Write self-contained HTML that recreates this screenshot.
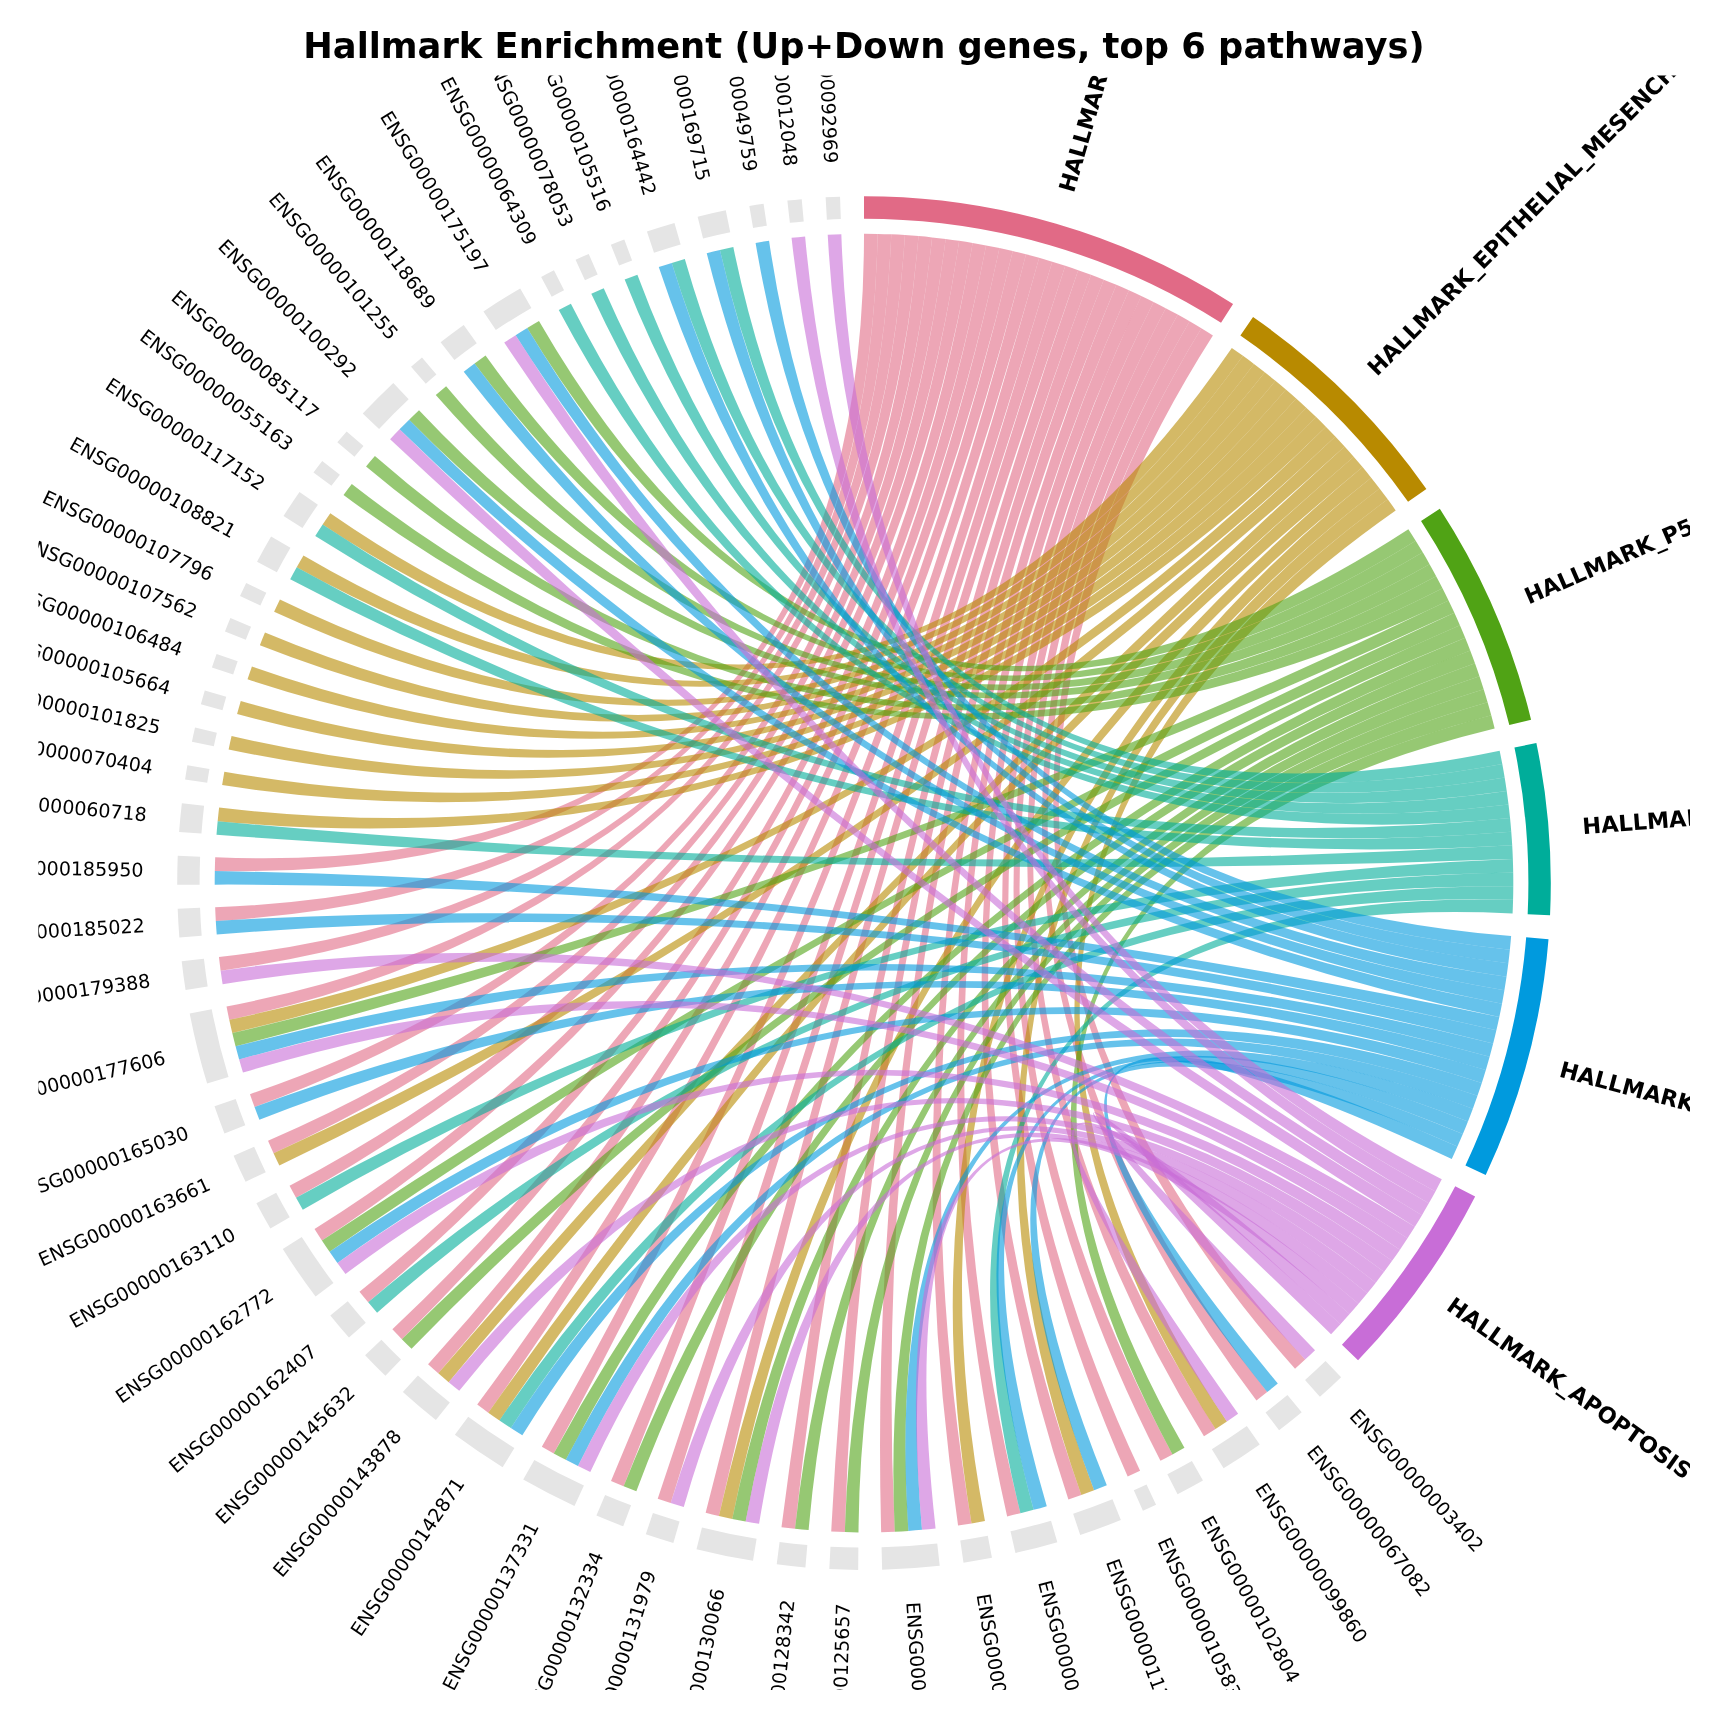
<!DOCTYPE html>
<html lang="en"><head><meta charset="utf-8"><title>Hallmark Enrichment (Up+Down genes, top 6 pathways)</title>
<style>html,body{margin:0;padding:0;background:#fff}body{width:1728px;height:1728px;overflow:hidden}</style>
</head><body>
<svg width="1728" height="1728" viewBox="0 0 1728 1728" style="display:block;will-change:transform">
<rect width="1728" height="1728" fill="#fff"/>
<defs><clipPath id="c"><rect x="38.4" y="75.6" width="1651.6" height="1614.4"/></clipPath></defs>
<text x="864" y="57.5" text-anchor="middle" font-family="'DejaVu Sans','Liberation Sans',sans-serif" font-weight="bold" font-size="35.3">Hallmark Enrichment (Up+Down genes, top 6 pathways)</text>
<g clip-path="url(#c)">
<path d="M864 196.3A686.8 686.8 0 0 1 1233.07 303.89L1221.03 322.78A664.4 664.4 0 0 0 864 218.7Z" fill="#E16A86"/>
<path d="M1253.06 317.12A686.8 686.8 0 0 1 1426.39 488.88L1408.05 501.74A664.4 664.4 0 0 0 1240.37 335.58Z" fill="#B88A00"/>
<path d="M1439.81 508.75A686.8 686.8 0 0 1 1531.07 719.66L1509.31 724.99A664.4 664.4 0 0 0 1421.03 520.96Z" fill="#50A315"/>
<path d="M1536.37 743.04A686.8 686.8 0 0 1 1550.05 915.21L1527.67 914.16A664.4 664.4 0 0 0 1514.44 747.61Z" fill="#00AD9A"/>
<path d="M1548.51 939.13A686.8 686.8 0 0 1 1485.71 1174.94L1465.44 1165.42A664.4 664.4 0 0 0 1526.19 937.3Z" fill="#009ADE"/>
<path d="M1475.15 1196.46A686.8 686.8 0 0 1 1358.04 1360.19L1341.93 1344.63A664.4 664.4 0 0 0 1455.22 1186.23Z" fill="#C86DD7"/>
<path d="M1341.09 1377.14A686.8 686.8 0 0 1 1319.91 1396.75L1305.05 1380A664.4 664.4 0 0 0 1325.53 1361.03Z" fill="#E5E5E5"/>
<path d="M1301.71 1412.35A686.8 686.8 0 0 1 1279.09 1430.27L1265.55 1412.42A664.4 664.4 0 0 0 1287.44 1395.09Z" fill="#E5E5E5"/>
<path d="M1259.74 1444.42A686.8 686.8 0 0 1 1223.6 1468.24L1211.87 1449.15A664.4 664.4 0 0 0 1246.83 1426.11Z" fill="#E5E5E5"/>
<path d="M1202.96 1480.43A686.8 686.8 0 0 1 1177.56 1494.14L1167.34 1474.21A664.4 664.4 0 0 0 1191.9 1460.95Z" fill="#E5E5E5"/>
<path d="M1156.05 1504.71A686.8 686.8 0 0 1 1142.92 1510.71L1133.82 1490.24A664.4 664.4 0 0 0 1146.52 1484.44Z" fill="#E5E5E5"/>
<path d="M1120.85 1520.06A686.8 686.8 0 0 1 1080.21 1534.98L1073.16 1513.72A664.4 664.4 0 0 0 1112.47 1499.29Z" fill="#E5E5E5"/>
<path d="M1057.33 1542.13A686.8 686.8 0 0 1 1015.43 1553L1010.49 1531.15A664.4 664.4 0 0 0 1051.03 1520.63Z" fill="#E5E5E5"/>
<path d="M991.96 1557.87A686.8 686.8 0 0 1 963.5 1562.65L960.26 1540.49A664.4 664.4 0 0 0 987.79 1535.87Z" fill="#E5E5E5"/>
<path d="M939.72 1565.71A686.8 686.8 0 0 1 882.15 1569.66L881.56 1547.27A664.4 664.4 0 0 0 937.25 1543.45Z" fill="#E5E5E5"/>
<path d="M858.18 1569.88A686.8 686.8 0 0 1 829.33 1569.02L830.46 1546.65A664.4 664.4 0 0 0 858.37 1547.48Z" fill="#E5E5E5"/>
<path d="M805.42 1567.4A686.8 686.8 0 0 1 776.72 1564.33L779.57 1542.11A664.4 664.4 0 0 0 807.33 1545.08Z" fill="#E5E5E5"/>
<path d="M753 1560.87A686.8 686.8 0 0 1 696.49 1549.16L701.96 1527.44A664.4 664.4 0 0 0 756.62 1538.77Z" fill="#E5E5E5"/>
<path d="M673.35 1542.91A686.8 686.8 0 0 1 645.8 1534.32L652.92 1513.08A664.4 664.4 0 0 0 679.57 1521.39Z" fill="#E5E5E5"/>
<path d="M623.21 1526.3A686.8 686.8 0 0 1 596.4 1515.62L605.12 1494.99A664.4 664.4 0 0 0 631.06 1505.33Z" fill="#E5E5E5"/>
<path d="M574.48 1505.9A686.8 686.8 0 0 1 523.22 1479.39L534.34 1459.95A664.4 664.4 0 0 0 583.93 1485.58Z" fill="#E5E5E5"/>
<path d="M502.62 1467.14A686.8 686.8 0 0 1 454.87 1434.74L468.21 1416.75A664.4 664.4 0 0 0 514.41 1448.09Z" fill="#E5E5E5"/>
<path d="M435.87 1420.12A686.8 686.8 0 0 1 402.89 1392.09L417.93 1375.49A664.4 664.4 0 0 0 449.83 1402.61Z" fill="#E5E5E5"/>
<path d="M385.4 1375.69A686.8 686.8 0 0 1 365.13 1355.14L381.4 1339.75A664.4 664.4 0 0 0 401.01 1359.62Z" fill="#E5E5E5"/>
<path d="M348.96 1337.45A686.8 686.8 0 0 1 330.33 1315.41L347.74 1301.31A664.4 664.4 0 0 0 365.76 1322.63Z" fill="#E5E5E5"/>
<path d="M315.57 1296.52A686.8 686.8 0 0 1 282.8 1249.02L301.75 1237.09A664.4 664.4 0 0 0 333.45 1283.04Z" fill="#E5E5E5"/>
<path d="M270.38 1228.51A686.8 686.8 0 0 1 256.39 1203.27L276.21 1192.83A664.4 664.4 0 0 0 289.74 1217.25Z" fill="#E5E5E5"/>
<path d="M245.59 1181.87A686.8 686.8 0 0 1 233.58 1155.63L254.15 1146.74A664.4 664.4 0 0 0 265.76 1172.13Z" fill="#E5E5E5"/>
<path d="M224.46 1133.46A686.8 686.8 0 0 1 214.5 1106.37L235.69 1099.09A664.4 664.4 0 0 0 245.32 1125.29Z" fill="#E5E5E5"/>
<path d="M207.11 1083.57A686.8 686.8 0 0 1 189.71 1013.58L211.7 1009.32A664.4 664.4 0 0 0 228.53 1077.03Z" fill="#E5E5E5"/>
<path d="M185.56 989.96A686.8 686.8 0 0 1 181.67 961.37L203.93 958.82A664.4 664.4 0 0 0 207.69 986.48Z" fill="#E5E5E5"/>
<path d="M179.36 937.51A686.8 686.8 0 0 1 177.68 908.7L200.06 907.86A664.4 664.4 0 0 0 201.69 935.73Z" fill="#E5E5E5"/>
<path d="M177.2 884.73A686.8 686.8 0 0 1 177.74 855.87L200.12 856.76A664.4 664.4 0 0 0 199.6 884.68Z" fill="#E5E5E5"/>
<path d="M179.11 831.94A686.8 686.8 0 0 1 181.86 803.21L204.11 805.82A664.4 664.4 0 0 0 201.45 833.61Z" fill="#E5E5E5"/>
<path d="M185.07 779.46A686.8 686.8 0 0 1 187.39 765.21L209.46 769.06A664.4 664.4 0 0 0 207.21 782.84Z" fill="#E5E5E5"/>
<path d="M191.92 741.67A686.8 686.8 0 0 1 195.04 727.58L216.86 732.66A664.4 664.4 0 0 0 213.84 746.29Z" fill="#E5E5E5"/>
<path d="M200.87 704.33A686.8 686.8 0 0 1 204.78 690.44L226.28 696.72A664.4 664.4 0 0 0 222.5 710.16Z" fill="#E5E5E5"/>
<path d="M211.9 667.55A686.8 686.8 0 0 1 216.57 653.9L237.69 661.37A664.4 664.4 0 0 0 233.17 674.58Z" fill="#E5E5E5"/>
<path d="M224.97 631.44A686.8 686.8 0 0 1 230.4 618.07L251.06 626.71A664.4 664.4 0 0 0 245.81 639.65Z" fill="#E5E5E5"/>
<path d="M240.03 596.12A686.8 686.8 0 0 1 246.2 583.07L266.35 592.86A664.4 664.4 0 0 0 260.38 605.48Z" fill="#E5E5E5"/>
<path d="M257.05 561.69A686.8 686.8 0 0 1 271.08 536.48L290.42 547.78A664.4 664.4 0 0 0 276.84 572.18Z" fill="#E5E5E5"/>
<path d="M283.54 516A686.8 686.8 0 0 1 299.48 491.94L317.89 504.69A664.4 664.4 0 0 0 302.47 527.97Z" fill="#E5E5E5"/>
<path d="M313.47 472.47A686.8 686.8 0 0 1 322.22 461L339.89 474.76A664.4 664.4 0 0 0 331.43 485.87Z" fill="#E5E5E5"/>
<path d="M337.28 442.35A686.8 686.8 0 0 1 346.66 431.38L363.53 446.11A664.4 664.4 0 0 0 354.46 456.72Z" fill="#E5E5E5"/>
<path d="M362.74 413.6A686.8 686.8 0 0 1 393.31 382.95L408.66 399.27A664.4 664.4 0 0 0 379.09 428.91Z" fill="#E5E5E5"/>
<path d="M411.05 366.83A686.8 686.8 0 0 1 422 357.43L436.41 374.57A664.4 664.4 0 0 0 425.82 383.67Z" fill="#E5E5E5"/>
<path d="M440.61 342.32A686.8 686.8 0 0 1 463.71 325.01L476.76 343.22A664.4 664.4 0 0 0 454.42 359.96Z" fill="#E5E5E5"/>
<path d="M483.43 311.38A686.8 686.8 0 0 1 520.2 288.55L531.41 307.94A664.4 664.4 0 0 0 495.84 330.03Z" fill="#E5E5E5"/>
<path d="M541.16 276.91A686.8 686.8 0 0 1 553.96 270.26L564.08 290.25A664.4 664.4 0 0 0 551.69 296.68Z" fill="#E5E5E5"/>
<path d="M575.54 259.81A686.8 686.8 0 0 1 588.7 253.89L597.68 274.41A664.4 664.4 0 0 0 584.95 280.14Z" fill="#E5E5E5"/>
<path d="M610.83 244.67A686.8 686.8 0 0 1 624.3 239.49L632.11 260.48A664.4 664.4 0 0 0 619.08 265.49Z" fill="#E5E5E5"/>
<path d="M646.9 231.51A686.8 686.8 0 0 1 674.47 222.97L680.65 244.5A664.4 664.4 0 0 0 653.98 252.77Z" fill="#E5E5E5"/>
<path d="M697.62 216.76A686.8 686.8 0 0 1 725.76 210.36L730.27 232.3A664.4 664.4 0 0 0 703.05 238.49Z" fill="#E5E5E5"/>
<path d="M749.33 205.94A686.8 686.8 0 0 1 763.58 203.68L766.85 225.84A664.4 664.4 0 0 0 753.07 228.03Z" fill="#E5E5E5"/>
<path d="M787.35 200.59A686.8 686.8 0 0 1 801.71 199.13L803.74 221.44A664.4 664.4 0 0 0 789.85 222.85Z" fill="#E5E5E5"/>
<path d="M825.62 197.37A686.8 686.8 0 0 1 840.03 196.72L840.81 219.1A664.4 664.4 0 0 0 826.87 219.74Z" fill="#E5E5E5"/>
<g fill="#E16A86" fill-opacity="0.6">
<path d="M864 233.8A649.3 649.3 0 0 1 877.64 233.94Q864 883.1 214.81 871A649.3 649.3 0 0 1 215.21 857.36Q864 883.1 864 233.8Z"/>
<path d="M877.64 233.94A649.3 649.3 0 0 1 891.28 234.37Q864 883.1 215.8 920.93A649.3 649.3 0 0 1 215.15 907.3Q864 883.1 877.64 233.94Z"/>
<path d="M891.28 234.37A649.3 649.3 0 0 1 904.9 235.09Q864 883.1 220.63 970.63A649.3 649.3 0 0 1 218.93 957.09Q864 883.1 891.28 234.37Z"/>
<path d="M904.9 235.09A649.3 649.3 0 0 1 918.51 236.09Q864 883.1 229.26 1019.82A649.3 649.3 0 0 1 226.52 1006.45Q864 883.1 904.9 235.09Z"/>
<path d="M918.51 236.09A649.3 649.3 0 0 1 932.09 237.38Q864 883.1 254.54 1107.03A649.3 649.3 0 0 1 249.97 1094.18Q864 883.1 918.51 236.09Z"/>
<path d="M932.09 237.38A649.3 649.3 0 0 1 945.64 238.95Q864 883.1 273.55 1153.21A649.3 649.3 0 0 1 268.01 1140.75Q864 883.1 932.09 237.38Z"/>
<path d="M945.64 238.95A649.3 649.3 0 0 1 959.16 240.81Q864 883.1 296.06 1197.79A649.3 649.3 0 0 1 289.57 1185.79Q864 883.1 945.64 238.95Z"/>
<path d="M959.16 240.81A649.3 649.3 0 0 1 972.63 242.95Q864 883.1 321.92 1240.51A649.3 649.3 0 0 1 314.53 1229.04Q864 883.1 959.16 240.81Z"/>
<path d="M972.63 242.95A649.3 649.3 0 0 1 986.06 245.38Q864 883.1 368.17 1302.31A649.3 649.3 0 0 1 359.47 1291.8Q864 883.1 972.63 242.95Z"/>
<path d="M986.06 245.38A649.3 649.3 0 0 1 999.43 248.08Q864 883.1 401.85 1339.18A649.3 649.3 0 0 1 392.37 1329.37Q864 883.1 986.06 245.38Z"/>
<path d="M999.43 248.08A649.3 649.3 0 0 1 1012.74 251.07Q864 883.1 438.27 1373.35A649.3 649.3 0 0 1 428.06 1364.3Q864 883.1 999.43 248.08Z"/>
<path d="M1012.74 251.07A649.3 649.3 0 0 1 1025.99 254.33Q864 883.1 488.25 1412.63A649.3 649.3 0 0 1 477.21 1404.62Q864 883.1 1012.74 251.07Z"/>
<path d="M1025.99 254.33A649.3 649.3 0 0 1 1039.16 257.87Q864 883.1 553.75 1453.48A649.3 649.3 0 0 1 541.83 1446.84Q864 883.1 1025.99 254.33Z"/>
<path d="M1039.16 257.87A649.3 649.3 0 0 1 1052.26 261.69Q864 883.1 623.63 1486.27A649.3 649.3 0 0 1 611.01 1481.08Q864 883.1 1039.16 257.87Z"/>
<path d="M1052.26 261.69A649.3 649.3 0 0 1 1065.27 265.78Q864 883.1 670.69 1502.96A649.3 649.3 0 0 1 657.71 1498.76Q864 883.1 1052.26 261.69Z"/>
<path d="M1065.27 265.78A649.3 649.3 0 0 1 1078.2 270.15Q864 883.1 718.9 1515.98A649.3 649.3 0 0 1 705.64 1512.79Q864 883.1 1065.27 265.78Z"/>
<path d="M1078.2 270.15A649.3 649.3 0 0 1 1091.03 274.78Q864 883.1 795.04 1528.73A649.3 649.3 0 0 1 781.49 1527.14Q864 883.1 1078.2 270.15Z"/>
<path d="M1091.03 274.78A649.3 649.3 0 0 1 1103.76 279.69Q864 883.1 844.86 1532.12A649.3 649.3 0 0 1 831.23 1531.57Q864 883.1 1091.03 274.78Z"/>
<path d="M1103.76 279.69A649.3 649.3 0 0 1 1116.38 284.86Q864 883.1 894.8 1531.67A649.3 649.3 0 0 1 881.16 1532.17Q864 883.1 1103.76 279.69Z"/>
<path d="M1116.38 284.86A649.3 649.3 0 0 1 1128.9 290.29Q864 883.1 971.55 1523.43A649.3 649.3 0 0 1 958.07 1525.55Q864 883.1 1116.38 284.86Z"/>
<path d="M1128.9 290.29A649.3 649.3 0 0 1 1141.29 295.99Q864 883.1 1020.44 1513.27A649.3 649.3 0 0 1 1007.16 1516.42Q864 883.1 1128.9 290.29Z"/>
<path d="M1141.29 295.99A649.3 649.3 0 0 1 1153.57 301.95Q864 883.1 1081.31 1494.95A649.3 649.3 0 0 1 1068.41 1499.39Q864 883.1 1141.29 295.99Z"/>
<path d="M1153.57 301.95A649.3 649.3 0 0 1 1165.71 308.16Q864 883.1 1140.1 1470.77A649.3 649.3 0 0 1 1127.69 1476.44Q864 883.1 1153.57 301.95Z"/>
<path d="M1165.71 308.16A649.3 649.3 0 0 1 1177.73 314.62Q864 883.1 1172.51 1454.42A649.3 649.3 0 0 1 1160.44 1460.78Q864 883.1 1165.71 308.16Z"/>
<path d="M1177.73 314.62A649.3 649.3 0 0 1 1189.6 321.34Q864 883.1 1215.51 1429.02A649.3 649.3 0 0 1 1203.96 1436.29Q864 883.1 1177.73 314.62Z"/>
<path d="M1189.6 321.34A649.3 649.3 0 0 1 1201.33 328.31Q864 883.1 1267.21 1392.03A649.3 649.3 0 0 1 1256.43 1400.39Q864 883.1 1189.6 321.34Z"/>
<path d="M1201.33 328.31A649.3 649.3 0 0 1 1212.92 335.52Q864 883.1 1305.13 1359.54A649.3 649.3 0 0 1 1295.02 1368.7Q864 883.1 1201.33 328.31Z"/>
</g>
<g fill="#B88A00" fill-opacity="0.6">
<path d="M1231.81 348.03A649.3 649.3 0 0 1 1242.97 355.87Q864 883.1 322.65 524.59A649.3 649.3 0 0 1 330.3 513.29Q864 883.1 1231.81 348.03Z"/>
<path d="M1242.97 355.87A649.3 649.3 0 0 1 1253.97 363.95Q864 883.1 296.7 567.26A649.3 649.3 0 0 1 303.46 555.41Q864 883.1 1242.97 355.87Z"/>
<path d="M1253.97 363.95A649.3 649.3 0 0 1 1264.79 372.26Q864 883.1 274.1 611.79A649.3 649.3 0 0 1 279.93 599.45Q864 883.1 1253.97 363.95Z"/>
<path d="M1264.79 372.26A649.3 649.3 0 0 1 1275.43 380.79Q864 883.1 259.86 645.18A649.3 649.3 0 0 1 264.99 632.54Q864 883.1 1264.79 372.26Z"/>
<path d="M1275.43 380.79A649.3 649.3 0 0 1 1285.9 389.55Q864 883.1 247.51 679.32A649.3 649.3 0 0 1 251.92 666.41Q864 883.1 1275.43 380.79Z"/>
<path d="M1285.9 389.55A649.3 649.3 0 0 1 1296.17 398.52Q864 883.1 237.08 714.09A649.3 649.3 0 0 1 240.77 700.96Q864 883.1 1285.9 389.55Z"/>
<path d="M1296.17 398.52A649.3 649.3 0 0 1 1306.26 407.71Q864 883.1 228.62 749.39A649.3 649.3 0 0 1 231.57 736.07Q864 883.1 1296.17 398.52Z"/>
<path d="M1306.26 407.71A649.3 649.3 0 0 1 1316.15 417.1Q864 883.1 222.14 785.11A649.3 649.3 0 0 1 224.34 771.65Q864 883.1 1306.26 407.71Z"/>
<path d="M1316.15 417.1A649.3 649.3 0 0 1 1325.84 426.71Q864 883.1 217.66 821.14A649.3 649.3 0 0 1 219.11 807.58Q864 883.1 1316.15 417.1Z"/>
<path d="M1325.84 426.71A649.3 649.3 0 0 1 1335.33 436.51Q864 883.1 232.27 1033.12A649.3 649.3 0 0 1 229.26 1019.82Q864 883.1 1325.84 426.71Z"/>
<path d="M1335.33 436.51A649.3 649.3 0 0 1 1344.61 446.51Q864 883.1 279.36 1165.56A649.3 649.3 0 0 1 273.55 1153.21Q864 883.1 1335.33 436.51Z"/>
<path d="M1344.61 446.51A649.3 649.3 0 0 1 1353.67 456.71Q864 883.1 448.66 1382.19A649.3 649.3 0 0 1 438.27 1373.35Q864 883.1 1344.61 446.51Z"/>
<path d="M1353.67 456.71A649.3 649.3 0 0 1 1362.52 467.09Q864 883.1 499.46 1420.41A649.3 649.3 0 0 1 488.25 1412.63Q864 883.1 1353.67 456.71Z"/>
<path d="M1362.52 467.09A649.3 649.3 0 0 1 1371.15 477.65Q864 883.1 732.23 1518.89A649.3 649.3 0 0 1 718.9 1515.98Q864 883.1 1362.52 467.09Z"/>
<path d="M1371.15 477.65A649.3 649.3 0 0 1 1379.56 488.4Q864 883.1 984.97 1521.03A649.3 649.3 0 0 1 971.55 1523.43Q864 883.1 1371.15 477.65Z"/>
<path d="M1379.56 488.4A649.3 649.3 0 0 1 1387.74 499.32Q864 883.1 1094.12 1490.25A649.3 649.3 0 0 1 1081.31 1494.95Q864 883.1 1379.56 488.4Z"/>
<path d="M1387.74 499.32A649.3 649.3 0 0 1 1395.69 510.41Q864 883.1 1226.9 1421.52A649.3 649.3 0 0 1 1215.51 1429.02Q864 883.1 1387.74 499.32Z"/>
</g>
<g fill="#50A315" fill-opacity="0.6">
<path d="M1408.37 529.19A649.3 649.3 0 0 1 1415.68 540.7Q864 883.1 527.23 327.96A649.3 649.3 0 0 1 538.97 321.01Q864 883.1 1408.37 529.19Z"/>
<path d="M1415.68 540.7A649.3 649.3 0 0 1 1422.76 552.37Q864 883.1 474.56 363.55A649.3 649.3 0 0 1 485.56 355.49Q864 883.1 1415.68 540.7Z"/>
<path d="M1422.76 552.37A649.3 649.3 0 0 1 1429.58 564.18Q864 883.1 435.78 395.02A649.3 649.3 0 0 1 446.13 386.13Q864 883.1 1422.76 552.37Z"/>
<path d="M1429.58 564.18A649.3 649.3 0 0 1 1436.16 576.14Q864 883.1 409.17 419.72A649.3 649.3 0 0 1 419.01 410.26Q864 883.1 1429.58 564.18Z"/>
<path d="M1436.16 576.14A649.3 649.3 0 0 1 1442.48 588.23Q864 883.1 366.04 466.41A649.3 649.3 0 0 1 374.91 456.04Q864 883.1 1436.16 576.14Z"/>
<path d="M1442.48 588.23A649.3 649.3 0 0 1 1448.55 600.45Q864 883.1 343.53 494.89A649.3 649.3 0 0 1 351.8 484.04Q864 883.1 1442.48 588.23Z"/>
<path d="M1448.55 600.45A649.3 649.3 0 0 1 1454.36 612.79Q864 883.1 235.56 1046.36A649.3 649.3 0 0 1 232.27 1033.12Q864 883.1 1448.55 600.45Z"/>
<path d="M1454.36 612.79A649.3 649.3 0 0 1 1459.91 625.25Q864 883.1 329.55 1251.82A649.3 649.3 0 0 1 321.92 1240.51Q864 883.1 1454.36 612.79Z"/>
<path d="M1459.91 625.25A649.3 649.3 0 0 1 1465.19 637.83Q864 883.1 411.54 1348.79A649.3 649.3 0 0 1 401.85 1339.18Q864 883.1 1459.91 625.25Z"/>
<path d="M1465.19 637.83A649.3 649.3 0 0 1 1470.21 650.51Q864 883.1 565.8 1459.87A649.3 649.3 0 0 1 553.75 1453.48Q864 883.1 1465.19 637.83Z"/>
<path d="M1470.21 650.51A649.3 649.3 0 0 1 1474.97 663.3Q864 883.1 636.35 1491.18A649.3 649.3 0 0 1 623.63 1486.27Q864 883.1 1470.21 650.51Z"/>
<path d="M1474.97 663.3A649.3 649.3 0 0 1 1479.45 676.19Q864 883.1 745.62 1521.52A649.3 649.3 0 0 1 732.23 1518.89Q864 883.1 1474.97 663.3Z"/>
<path d="M1479.45 676.19A649.3 649.3 0 0 1 1483.66 689.16Q864 883.1 808.62 1530.03A649.3 649.3 0 0 1 795.04 1528.73Q864 883.1 1479.45 676.19Z"/>
<path d="M1483.66 689.16A649.3 649.3 0 0 1 1487.6 702.23Q864 883.1 858.5 1532.38A649.3 649.3 0 0 1 844.86 1532.12Q864 883.1 1483.66 689.16Z"/>
<path d="M1487.6 702.23A649.3 649.3 0 0 1 1491.26 715.37Q864 883.1 908.41 1530.88A649.3 649.3 0 0 1 894.8 1531.67Q864 883.1 1487.6 702.23Z"/>
<path d="M1491.26 715.37A649.3 649.3 0 0 1 1494.65 728.58Q864 883.1 1184.45 1447.82A649.3 649.3 0 0 1 1172.51 1454.42Q864 883.1 1491.26 715.37Z"/>
</g>
<g fill="#00AD9A" fill-opacity="0.6">
<path d="M1499.65 750.69A649.3 649.3 0 0 1 1502.3 764.07Q864 883.1 719.98 249.97A649.3 649.3 0 0 1 733.31 247.09Q864 883.1 1499.65 750.69Z"/>
<path d="M1502.3 764.07A649.3 649.3 0 0 1 1504.66 777.51Q864 883.1 671.74 262.92A649.3 649.3 0 0 1 684.82 259.01Q864 883.1 1502.3 764.07Z"/>
<path d="M1504.66 777.51A649.3 649.3 0 0 1 1506.73 790.99Q864 883.1 624.65 279.53A649.3 649.3 0 0 1 637.38 274.63Q864 883.1 1504.66 777.51Z"/>
<path d="M1506.73 790.99A649.3 649.3 0 0 1 1508.53 804.52Q864 883.1 591.29 293.85A649.3 649.3 0 0 1 603.73 288.25Q864 883.1 1506.73 790.99Z"/>
<path d="M1508.53 804.52A649.3 649.3 0 0 1 1510.04 818.08Q864 883.1 558.78 310.01A649.3 649.3 0 0 1 570.89 303.72Q864 883.1 1508.53 804.52Z"/>
<path d="M1510.04 818.08A649.3 649.3 0 0 1 1511.26 831.66Q864 883.1 315.24 536.04A649.3 649.3 0 0 1 322.65 524.59Q864 883.1 1510.04 818.08Z"/>
<path d="M1511.26 831.66A649.3 649.3 0 0 1 1512.2 845.27Q864 883.1 290.19 579.24A649.3 649.3 0 0 1 296.7 567.26Q864 883.1 1511.26 831.66Z"/>
<path d="M1512.2 845.27A649.3 649.3 0 0 1 1512.85 858.9Q864 883.1 216.5 834.73A649.3 649.3 0 0 1 217.66 821.14Q864 883.1 1512.2 845.27Z"/>
<path d="M1512.85 858.9A649.3 649.3 0 0 1 1513.21 872.54Q864 883.1 302.79 1209.65A649.3 649.3 0 0 1 296.06 1197.79Q864 883.1 1512.85 858.9Z"/>
<path d="M1513.21 872.54A649.3 649.3 0 0 1 1513.29 886.18Q864 883.1 377.08 1312.64A649.3 649.3 0 0 1 368.17 1302.31Q864 883.1 1513.21 872.54Z"/>
<path d="M1513.29 886.18A649.3 649.3 0 0 1 1513.08 899.82Q864 883.1 510.83 1427.95A649.3 649.3 0 0 1 499.46 1420.41Q864 883.1 1513.29 886.18Z"/>
<path d="M1513.08 899.82A649.3 649.3 0 0 1 1512.59 913.46Q864 883.1 1033.64 1509.85A649.3 649.3 0 0 1 1020.44 1513.27Q864 883.1 1513.08 899.82Z"/>
</g>
<g fill="#009ADE" fill-opacity="0.6">
<path d="M1511.14 936.07A649.3 649.3 0 0 1 1509.88 949.66Q864 883.1 755.59 242.91A649.3 649.3 0 0 1 769.06 240.78Q864 883.1 1511.14 936.07Z"/>
<path d="M1509.88 949.66A649.3 649.3 0 0 1 1508.34 963.21Q864 883.1 706.71 253.14A649.3 649.3 0 0 1 719.98 249.97Q864 883.1 1509.88 949.66Z"/>
<path d="M1508.34 963.21A649.3 649.3 0 0 1 1506.51 976.73Q864 883.1 658.76 267.09A649.3 649.3 0 0 1 671.74 262.92Q864 883.1 1508.34 963.21Z"/>
<path d="M1506.51 976.73A649.3 649.3 0 0 1 1504.4 990.21Q864 883.1 515.64 335.16A649.3 649.3 0 0 1 527.23 327.96Q864 883.1 1506.51 976.73Z"/>
<path d="M1504.4 990.21A649.3 649.3 0 0 1 1502.01 1003.64Q864 883.1 463.73 371.85A649.3 649.3 0 0 1 474.56 363.55Q864 883.1 1504.4 990.21Z"/>
<path d="M1502.01 1003.64A649.3 649.3 0 0 1 1499.34 1017.02Q864 883.1 399.54 429.37A649.3 649.3 0 0 1 409.17 419.72Q864 883.1 1502.01 1003.64Z"/>
<path d="M1499.34 1017.02A649.3 649.3 0 0 1 1496.39 1030.34Q864 883.1 214.7 884.64A649.3 649.3 0 0 1 214.81 871Q864 883.1 1499.34 1017.02Z"/>
<path d="M1496.39 1030.34A649.3 649.3 0 0 1 1493.15 1043.59Q864 883.1 216.74 934.54A649.3 649.3 0 0 1 215.8 920.93Q864 883.1 1496.39 1030.34Z"/>
<path d="M1493.15 1043.59A649.3 649.3 0 0 1 1489.64 1056.78Q864 883.1 239.13 1059.53A649.3 649.3 0 0 1 235.56 1046.36Q864 883.1 1493.15 1043.59Z"/>
<path d="M1489.64 1056.78A649.3 649.3 0 0 1 1485.85 1069.88Q864 883.1 259.38 1119.79A649.3 649.3 0 0 1 254.54 1107.03Q864 883.1 1489.64 1056.78Z"/>
<path d="M1485.85 1069.88A649.3 649.3 0 0 1 1481.79 1082.91Q864 883.1 337.41 1262.97A649.3 649.3 0 0 1 329.55 1251.82Q864 883.1 1485.85 1069.88Z"/>
<path d="M1481.79 1082.91A649.3 649.3 0 0 1 1477.46 1095.84Q864 883.1 522.35 1435.25A649.3 649.3 0 0 1 510.83 1427.95Q864 883.1 1481.79 1082.91Z"/>
<path d="M1477.46 1095.84A649.3 649.3 0 0 1 1472.85 1108.69Q864 883.1 577.98 1466.01A649.3 649.3 0 0 1 565.8 1459.87Q864 883.1 1477.46 1095.84Z"/>
<path d="M1472.85 1108.69A649.3 649.3 0 0 1 1467.98 1121.43Q864 883.1 922.01 1529.8A649.3 649.3 0 0 1 908.41 1530.88Q864 883.1 1472.85 1108.69Z"/>
<path d="M1467.98 1121.43A649.3 649.3 0 0 1 1462.84 1134.06Q864 883.1 1046.78 1506.14A649.3 649.3 0 0 1 1033.64 1509.85Q864 883.1 1467.98 1121.43Z"/>
<path d="M1462.84 1134.06A649.3 649.3 0 0 1 1457.43 1146.59Q864 883.1 1106.82 1485.29A649.3 649.3 0 0 1 1094.12 1490.25Q864 883.1 1462.84 1134.06Z"/>
<path d="M1457.43 1146.59A649.3 649.3 0 0 1 1451.77 1159Q864 883.1 1277.81 1383.45A649.3 649.3 0 0 1 1267.21 1392.03Q864 883.1 1457.43 1146.59Z"/>
</g>
<g fill="#C86DD7" fill-opacity="0.6">
<path d="M1441.78 1179.35A649.3 649.3 0 0 1 1435.43 1191.42Q864 883.1 827.71 234.81A649.3 649.3 0 0 1 841.34 234.2Q864 883.1 1441.78 1179.35Z"/>
<path d="M1435.43 1191.42A649.3 649.3 0 0 1 1428.82 1203.36Q864 883.1 791.54 237.86A649.3 649.3 0 0 1 805.11 236.48Q864 883.1 1435.43 1191.42Z"/>
<path d="M1428.82 1203.36A649.3 649.3 0 0 1 1421.97 1215.15Q864 883.1 504.21 342.6A649.3 649.3 0 0 1 515.64 335.16Q864 883.1 1428.82 1203.36Z"/>
<path d="M1421.97 1215.15A649.3 649.3 0 0 1 1414.87 1226.8Q864 883.1 390.11 439.23A649.3 649.3 0 0 1 399.54 429.37Q864 883.1 1421.97 1215.15Z"/>
<path d="M1414.87 1226.8A649.3 649.3 0 0 1 1407.53 1238.3Q864 883.1 222.61 984.13A649.3 649.3 0 0 1 220.63 970.63Q864 883.1 1414.87 1226.8Z"/>
<path d="M1407.53 1238.3A649.3 649.3 0 0 1 1399.95 1249.64Q864 883.1 242.97 1072.62A649.3 649.3 0 0 1 239.13 1059.53Q864 883.1 1407.53 1238.3Z"/>
<path d="M1399.95 1249.64A649.3 649.3 0 0 1 1392.13 1260.82Q864 883.1 345.51 1273.95A649.3 649.3 0 0 1 337.41 1262.97Q864 883.1 1399.95 1249.64Z"/>
<path d="M1392.13 1260.82A649.3 649.3 0 0 1 1384.07 1271.83Q864 883.1 459.24 1390.8A649.3 649.3 0 0 1 448.66 1382.19Q864 883.1 1392.13 1260.82Z"/>
<path d="M1384.07 1271.83A649.3 649.3 0 0 1 1375.79 1282.68Q864 883.1 590.29 1471.89A649.3 649.3 0 0 1 577.98 1466.01Q864 883.1 1384.07 1271.83Z"/>
<path d="M1375.79 1282.68A649.3 649.3 0 0 1 1367.28 1293.34Q864 883.1 683.76 1506.88A649.3 649.3 0 0 1 670.69 1502.96Q864 883.1 1375.79 1282.68Z"/>
<path d="M1367.28 1293.34A649.3 649.3 0 0 1 1358.55 1303.82Q864 883.1 759.06 1523.86A649.3 649.3 0 0 1 745.62 1521.52Q864 883.1 1367.28 1293.34Z"/>
<path d="M1358.55 1303.82A649.3 649.3 0 0 1 1349.6 1314.12Q864 883.1 935.59 1528.44A649.3 649.3 0 0 1 922.01 1529.8Q864 883.1 1358.55 1303.82Z"/>
<path d="M1349.6 1314.12A649.3 649.3 0 0 1 1340.44 1324.23Q864 883.1 1238.13 1413.77A649.3 649.3 0 0 1 1226.9 1421.52Q864 883.1 1349.6 1314.12Z"/>
<path d="M1340.44 1324.23A649.3 649.3 0 0 1 1331.07 1334.14Q864 883.1 1315.04 1350.17A649.3 649.3 0 0 1 1305.13 1359.54Q864 883.1 1340.44 1324.23Z"/>
</g>
<g font-family="'DejaVu Sans','Liberation Sans',sans-serif">
<text transform="translate(1065.67 191.3) rotate(-73.75)" y="8.29" text-anchor="start" font-size="22.4" font-weight="bold">HALLMARK_TNFA_SIGNALING_VIA_NFKB</text>
<text transform="translate(1371.2 371.23) rotate(-45.26)" y="8.29" text-anchor="start" font-size="22.4" font-weight="bold">HALLMARK_EPITHELIAL_MESENCHYMAL_TRANSITION</text>
<text transform="translate(1525.34 596.94) rotate(-23.4)" y="8.29" text-anchor="start" font-size="22.4" font-weight="bold">HALLMARK_P53_PATHWAY</text>
<text transform="translate(1582.34 826.01) rotate(-4.54)" y="8.29" text-anchor="start" font-size="22.4" font-weight="bold">HALLMARK_UV_RESPONSE_DN</text>
<text transform="translate(1560.33 1068.54) rotate(14.91)" y="8.29" text-anchor="start" font-size="22.4" font-weight="bold">HALLMARK_HYPOXIA</text>
<text transform="translate(1450.12 1302.3) rotate(35.57)" y="8.29" text-anchor="start" font-size="22.4" font-weight="bold">HALLMARK_APOPTOSIS</text>
<text transform="translate(1353.57 1411.86) rotate(47.2)" y="7.05" text-anchor="start" font-size="19.05">ENSG00000003402</text>
<text transform="translate(1311.48 1447.92) rotate(51.61)" y="7.05" text-anchor="start" font-size="19.05">ENSG00000067082</text>
<text transform="translate(1260.45 1484.84) rotate(56.62)" y="7.05" text-anchor="start" font-size="19.05">ENSG00000099860</text>
<text transform="translate(1206.39 1517.16) rotate(61.63)" y="7.05" text-anchor="start" font-size="19.05">ENSG00000102804</text>
<text transform="translate(1163.55 1538.49) rotate(65.44)" y="7.05" text-anchor="start" font-size="19.05">ENSG00000105835</text>
<text transform="translate(1112.29 1559.57) rotate(69.84)" y="7.05" text-anchor="start" font-size="19.05">ENSG00000112715</text>
<text transform="translate(1044.96 1580.61) rotate(75.46)" y="7.05" text-anchor="start" font-size="19.05">ENSG00000120129</text>
<text transform="translate(983.35 1593.75) rotate(80.47)" y="7.05" text-anchor="start" font-size="19.05">ENSG00000122641</text>
<text transform="translate(913.29 1602.01) rotate(86.08)" y="7.05" text-anchor="start" font-size="19.05">ENSG00000124762</text>
<text transform="translate(842.76 1603.39) rotate(-88.31)" y="7.05" text-anchor="end" font-size="19.05">ENSG00000125657</text>
<text transform="translate(787.46 1599.62) rotate(-83.9)" y="7.05" text-anchor="end" font-size="19.05">ENSG00000128342</text>
<text transform="translate(717.76 1588.71) rotate(-78.29)" y="7.05" text-anchor="end" font-size="19.05">ENSG00000130066</text>
<text transform="translate(649.47 1571.02) rotate(-72.68)" y="7.05" text-anchor="end" font-size="19.05">ENSG00000131979</text>
<text transform="translate(597.23 1552.5) rotate(-68.27)" y="7.05" text-anchor="end" font-size="19.05">ENSG00000132334</text>
<text transform="translate(533.05 1523.21) rotate(-62.66)" y="7.05" text-anchor="end" font-size="19.05">ENSG00000137331</text>
<text transform="translate(459.43 1479.41) rotate(-55.84)" y="7.05" text-anchor="end" font-size="19.05">ENSG00000142871</text>
<text transform="translate(397.26 1432.12) rotate(-49.63)" y="7.05" text-anchor="end" font-size="19.05">ENSG00000143878</text>
<text transform="translate(351.1 1389.26) rotate(-44.62)" y="7.05" text-anchor="end" font-size="19.05">ENSG00000145632</text>
<text transform="translate(313.72 1348.35) rotate(-40.21)" y="7.05" text-anchor="end" font-size="19.05">ENSG00000162407</text>
<text transform="translate(270.86 1292.31) rotate(-34.6)" y="7.05" text-anchor="end" font-size="19.05">ENSG00000162772</text>
<text transform="translate(233.69 1232.35) rotate(-28.99)" y="7.05" text-anchor="end" font-size="19.05">ENSG00000163110</text>
<text transform="translate(208.71 1182.87) rotate(-24.58)" y="7.05" text-anchor="end" font-size="19.05">ENSG00000163661</text>
<text transform="translate(187.61 1131.62) rotate(-20.17)" y="7.05" text-anchor="end" font-size="19.05">ENSG00000165030</text>
<text transform="translate(164.69 1056.95) rotate(-13.96)" y="7.05" text-anchor="end" font-size="19.05">ENSG00000177606</text>
<text transform="translate(149.98 980.24) rotate(-7.75)" y="7.05" text-anchor="end" font-size="19.05">ENSG00000179388</text>
<text transform="translate(144.62 925.08) rotate(-3.34)" y="7.05" text-anchor="end" font-size="19.05">ENSG00000185022</text>
<text transform="translate(143.53 869.67) rotate(1.07)" y="7.05" text-anchor="end" font-size="19.05">ENSG00000185950</text>
<text transform="translate(146.69 814.34) rotate(5.48)" y="7.05" text-anchor="end" font-size="19.05">ENSG00000060718</text>
<text transform="translate(152.83 766.88) rotate(9.28)" y="7.05" text-anchor="end" font-size="19.05">ENSG00000070404</text>
<text transform="translate(160.44 727.31) rotate(12.49)" y="7.05" text-anchor="end" font-size="19.05">ENSG00000101825</text>
<text transform="translate(170.25 688.23) rotate(15.69)" y="7.05" text-anchor="end" font-size="19.05">ENSG00000105664</text>
<text transform="translate(182.22 649.77) rotate(18.89)" y="7.05" text-anchor="end" font-size="19.05">ENSG00000106484</text>
<text transform="translate(196.33 612.03) rotate(22.1)" y="7.05" text-anchor="end" font-size="19.05">ENSG00000107562</text>
<text transform="translate(212.52 575.13) rotate(25.3)" y="7.05" text-anchor="end" font-size="19.05">ENSG00000107796</text>
<text transform="translate(234.4 532.57) rotate(29.11)" y="7.05" text-anchor="end" font-size="19.05">ENSG00000108821</text>
<text transform="translate(263.2 485.22) rotate(33.51)" y="7.05" text-anchor="end" font-size="19.05">ENSG00000117152</text>
<text transform="translate(290.94 446.22) rotate(37.32)" y="7.05" text-anchor="end" font-size="19.05">ENSG00000055163</text>
<text transform="translate(316.25 414.88) rotate(40.52)" y="7.05" text-anchor="end" font-size="19.05">ENSG00000085117</text>
<text transform="translate(353.85 374.16) rotate(44.93)" y="7.05" text-anchor="end" font-size="19.05">ENSG00000100292</text>
<text transform="translate(394.48 336.46) rotate(49.34)" y="7.05" text-anchor="end" font-size="19.05">ENSG00000101255</text>
<text transform="translate(431.8 306.5) rotate(53.15)" y="7.05" text-anchor="end" font-size="19.05">ENSG00000118689</text>
<text transform="translate(483.8 270.96) rotate(58.16)" y="7.05" text-anchor="end" font-size="19.05">ENSG00000175197</text>
<text transform="translate(531.97 243.55) rotate(62.56)" y="7.05" text-anchor="end" font-size="19.05">ENSG00000064309</text>
<text transform="translate(568.23 226) rotate(65.77)" y="7.05" text-anchor="end" font-size="19.05">ENSG00000078053</text>
<text transform="translate(605.42 210.49) rotate(68.97)" y="7.05" text-anchor="end" font-size="19.05">ENSG00000105516</text>
<text transform="translate(650.63 194.81) rotate(72.78)" y="7.05" text-anchor="end" font-size="19.05">ENSG00000164442</text>
<text transform="translate(704.16 180.45) rotate(77.18)" y="7.05" text-anchor="end" font-size="19.05">ENSG00000169715</text>
<text transform="translate(751.15 171.39) rotate(80.99)" y="7.05" text-anchor="end" font-size="19.05">ENSG00000049759</text>
<text transform="translate(791.11 166.2) rotate(84.19)" y="7.05" text-anchor="end" font-size="19.05">ENSG00000012048</text>
<text transform="translate(831.29 163.24) rotate(87.4)" y="7.05" text-anchor="end" font-size="19.05">ENSG00000092969</text>
</g>
</g>
</svg>
</body></html>
